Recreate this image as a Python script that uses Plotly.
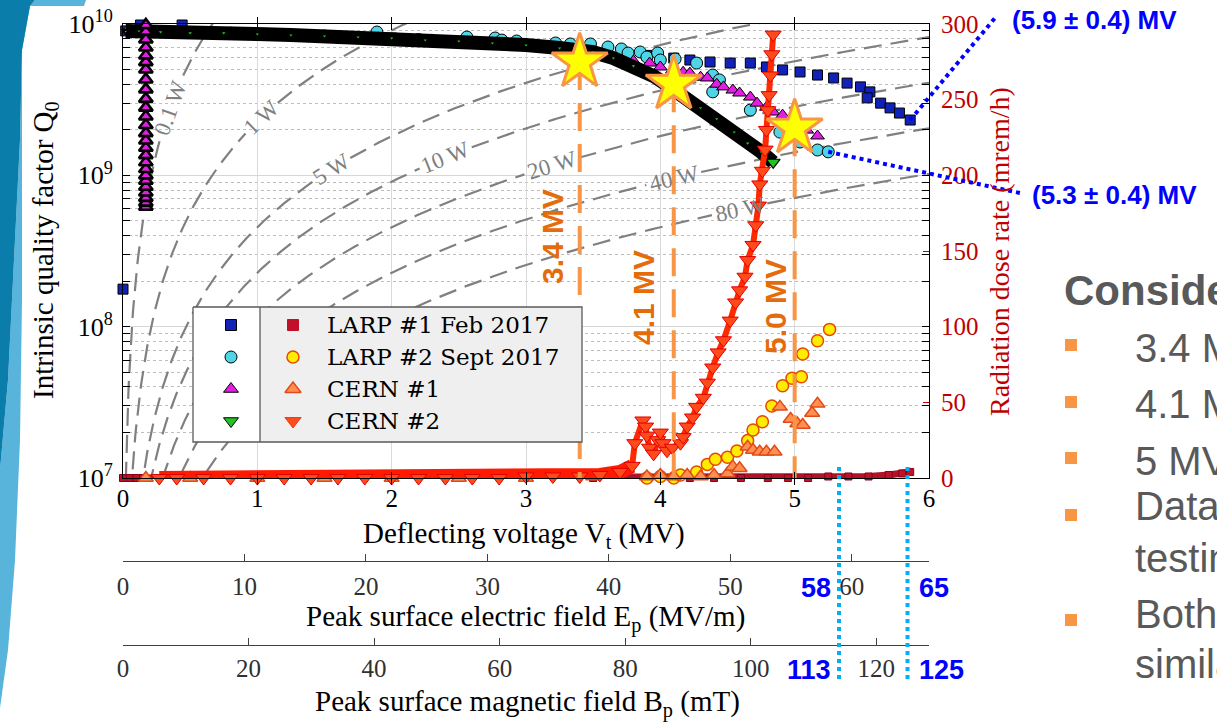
import math
import numpy as np
import plotly.graph_objects as go

W, H = 1217, 725
# plot area (pixels)
PX_L, PX_R, PX_T, PX_B = 123, 929, 24, 478
V_MAX = 6.0
LQ_MIN, LQ_MAX = 7.0, 10.0
DOSE_MAX = 300

SERIF = "Liberation Serif, Times New Roman, serif"
SANS = "Liberation Sans, Arial, sans-serif"
LEG_FONT = "DejaVu Serif, serif"

# ------------------------------------------------------------------ data
# Intrinsic quality factor Q0 vs deflecting voltage (MV)
larp1_V = [0.0, 0.02, 0.13, 0.44, 0.8, 1.2, 1.6, 2.0, 2.4, 2.8, 3.2, 3.6, 3.9, 4.1,
           4.22, 4.37, 4.52, 4.67, 4.79, 4.91, 5.04, 5.17, 5.29, 5.39, 5.49, 5.56,
           5.54, 5.64, 5.71, 5.78, 5.86]
larp1_Q = [1.77e8, 9.0e9, 9.85e9, 9.85e9, 8.7e9, 8.5e9, 8.3e9, 8.08e9, 7.75e9, 7.45e9,
           7.0e9, 6.3e9, 6.2e9, 5.95e9, 5.78e9, 5.61e9, 5.52e9, 5.52e9, 5.2e9, 4.97e9,
           4.82e9, 4.6e9, 4.4e9, 4.07e9, 3.84e9, 3.56e9, 3.25e9, 3.0e9, 2.79e9, 2.58e9,
           2.32e9]

larp2_V = [0.05, 0.4, 0.8, 1.2, 1.5, 1.89, 2.2, 2.56, 2.77, 2.82, 2.93, 3.22, 3.33,
           3.48, 3.61, 3.71, 3.76, 3.85, 3.90, 3.98, 4.0, 4.11, 4.27, 4.39, 4.44, 4.39,
           4.67, 4.89, 5.04, 5.17, 5.25]
larp2_Q = [8.99e9, 8.8e9, 8.7e9, 8.5e9, 8.33e9, 8.85e9, 7.9e9, 8.2e9, 8.08e9, 7.83e9,
           7.72e9, 7.49e9, 7.38e9, 7.38e9, 7.05e9, 6.84e9, 6.43e9, 6.53e9, 6.05e9,
           6.43e9, 5.78e9, 5.87e9, 5.52e9, 4.6e9, 4.27e9, 3.56e9, 2.7e9, 1.93e9,
           1.66e9, 1.47e9, 1.43e9]

cern1_col_V = 0.17
cern1_col_Q = [6.2e8, 6.6e8, 7.1e8, 7.7e8, 8.4e8, 9.2e8, 1.0e9, 1.1e9, 1.22e9, 1.36e9,
               1.52e9, 1.7e9, 1.9e9, 2.15e9, 2.45e9, 2.8e9, 3.2e9, 3.7e9, 4.3e9, 5.0e9,
               5.6e9, 6.2e9, 7.0e9, 7.9e9, 8.9e9, 9.85e9]
cern1_V = [0.3, 0.7, 1.1, 1.5, 1.9, 2.3, 2.7, 3.1, 3.5, 3.8, 3.92, 4.0, 4.09, 4.17,
           4.22, 4.30, 4.35, 4.42, 4.47, 4.54, 4.59, 4.67, 4.72, 4.79, 4.84, 4.91,
           4.97, 5.04, 5.09, 5.17]
cern1_Q = [8.86e9, 8.7e9, 8.5e9, 8.3e9, 8.1e9, 7.85e9, 7.5e9, 7.1e9, 6.5e9, 5.7e9,
           5.52e9, 5.2e9, 4.97e9, 4.8e9, 4.74e9, 4.45e9, 4.4e9, 4.0e9, 3.84e9, 3.66e9,
           3.5e9, 3.29e9, 3.0e9, 2.82e9, 2.62e9, 2.5e9, 2.32e9, 2.15e9, 1.99e9, 1.82e9]

cern2_V = [0.02, 0.12, 0.28, 0.5, 0.75, 1.0, 1.25, 1.5, 1.75, 2.0, 2.25, 2.5, 2.75,
           3.0, 3.25, 3.5, 3.65, 3.8, 3.95, 4.05, 4.18, 4.3, 4.42, 4.55, 4.65, 4.75,
           4.84]
cern2_Q = [8.99e9, 8.99e9, 8.86e9, 8.73e9, 8.73e9, 8.59e9, 8.46e9, 8.33e9, 8.2e9,
           8.08e9, 7.83e9, 7.72e9, 7.49e9, 7.26e9, 6.94e9, 6.53e9, 5.96e9, 5.28e9,
           4.53e9, 3.95e9, 3.3e9, 2.79e9, 2.36e9, 1.93e9, 1.63e9, 1.43e9, 1.22e9]

# Radiation dose rate (mrem/h) vs deflecting voltage (MV)
larp1_rad_V = [0.0, 0.05, 0.1, 0.15, 0.5, 1.0, 1.5, 2.0, 2.5, 3.0, 3.5, 4.0, 4.22,
               4.4, 4.6, 4.8, 4.95, 5.1, 5.25, 5.4, 5.55, 5.7, 5.8, 5.86]
larp1_rad_D = [0, 0, 0, 0, 0, 0, 0, 0, 0, 0, 0, 0, 0, 0, 0, 0, 0, 0, 1, 1, 1, 2, 3, 4]

larp2_rad_V = [3.9, 4.0, 4.1, 4.15, 4.27, 4.35, 4.41, 4.50, 4.57, 4.65, 4.69, 4.76,
               4.83, 4.91, 4.98, 5.05, 5.06, 5.17, 5.26]
larp2_rad_D = [0, 1, 0, 2, 4, 9, 12.4, 13.7, 17.8, 24.7, 31.7, 37.2, 47.6, 61.0, 65.9,
               66.9, 81.9, 90.7, 98.2]

cern1_rad_V = [0.17, 0.5, 1.0, 1.5, 2.0, 2.5, 3.0, 3.5, 3.9, 4.0, 4.1, 4.2, 4.3, 4.4,
               4.5, 4.54, 4.59, 4.65, 4.69, 4.74, 4.79, 4.85, 4.89, 4.97, 5.02, 5.06,
               5.13, 5.17]
cern1_rad_D = [0, 0, 0, 0, 0, 0, 0, 1, 1, 2, 1, 2, 1, 2, 3, 7.5, 6.4, 20.7, 18.5, 17.4,
               17.4, 17.4, 47, 39, 36, 35, 43, 49]

cern2_rad_V = [0.27, 0.4, 0.6, 0.8, 1.0, 1.2, 1.4, 1.6, 1.8, 2.0, 2.2, 2.4, 2.6, 2.8,
               3.0, 3.2, 3.4, 3.55, 3.7, 3.79, 3.81, 3.87, 3.89, 3.90, 3.92, 3.95,
               3.98, 4.0, 4.02, 4.05, 4.09, 4.15, 4.17, 4.20, 4.24, 4.27, 4.32, 4.35,
               4.39, 4.43, 4.47, 4.52, 4.56, 4.59, 4.63, 4.65, 4.69, 4.71, 4.73, 4.74,
               4.76, 4.78, 4.79, 4.80, 4.81, 4.82, 4.83, 4.84]
cern2_rad_D = [0, 0, 0, 0, 0, 0, 0, 0, 0, 0, 0, 0, 0, 0,
               1, 1, 1, 2, 4, 8, 23, 38, 34, 28, 20, 16, 25, 30, 23, 18, 20, 23, 27, 34,
               40, 47, 53, 63, 73, 83, 91, 104, 116, 124, 133, 144, 154, 167, 180, 194,
               203, 217, 230, 243, 253, 266, 280, 293]

# highlighted operating points
stars_V = [3.4, 4.1, 5.0]
stars_Q = [5.6e9, 4.0e9, 2.05e9]
stars_label = ["3.4 MV", "4.1 MV", "5.0 MV"]

# iso-power curves P = Vt^2 / (R_T/Q * Q0)
power_levels_W = [0.1, 1, 5, 10, 20, 40, 80]
power_label_V = [0.35, 1.03, 1.55, 2.40, 3.19, 4.10, 4.59]
RT_OVER_Q = 440.0  # ohm

# secondary scales
EP_PER_MV = 11.06
BP_PER_MV = 21.4
v_ticks = [0, 1, 2, 3, 4, 5, 6]
ep_ticks = [0, 10, 20, 30, 40, 50, 60]
bp_ticks = [0, 20, 40, 60, 80, 100, 120]
dose_ticks = [0, 50, 100, 150, 200, 250, 300]
q_ticks = [1e7, 1e8, 1e9, 1e10]
q_ticktext = ["10<sup>7</sup>", "10<sup>8</sup>", "10<sup>9</sup>", "10<sup>10</sup>"]

# quench limits
limit_V = [5.33, 5.84]
limit_Ep = [58, 65]
limit_Bp = [113, 125]
callout_text = ["(5.9 ± 0.4) MV", "(5.3 ± 0.4) MV"]

legend_labels = ["LARP #1 Feb 2017", "LARP #2 Sept 2017", "CERN #1", "CERN #2"]

slide_heading = "Considerations"
slide_lines = ["3.4 MV", "4.1 MV", "5 MV", "Data", "testing", "Both", "similar"]

# ------------------------------------------------------------------ helpers
def px_x(px):
    return px / W


def px_y(py):
    return 1 - py / H


def v2px(v):
    return PX_L + np.asarray(v, dtype=float) / V_MAX * (PX_R - PX_L)


def q2px(q):
    return PX_B - (np.log10(np.asarray(q, dtype=float)) - LQ_MIN) / (LQ_MAX - LQ_MIN) * (PX_B - PX_T)


def q_of(v, p):
    return (np.asarray(v, dtype=float) * 1e6) ** 2 / (RT_OVER_Q * p)


def path_px(pts):
    return "M " + " L ".join(f"{px_x(x):.5f},{px_y(y):.5f}" for x, y in pts) + " Z"


ann = []
shapes = []


def add_text(xp, yp, text, size, color, family, angle=0, xanchor="center", yanchor="middle"):
    ann.append(dict(x=px_x(xp), y=px_y(yp), xref="paper", yref="paper", text=text,
                    showarrow=False, textangle=angle, xanchor=xanchor, yanchor=yanchor,
                    font=dict(family=family, size=size, color=color)))


fig = go.Figure()
NOHOVER = dict(hoverinfo="skip", showlegend=False)

# ------------------------------------------------------------------ iso-power curves
ypx_dec = (PX_B - PX_T) / (LQ_MAX - LQ_MIN)
xpx_mv = (PX_R - PX_L) / V_MAX
vv = np.linspace(0.004, V_MAX, 1500)
for p, vl in zip(power_levels_W, power_label_V):
    qq = q_of(vv, p)
    label = f"{p:g} W"
    xl, yl = float(v2px(vl)), float(q2px(q_of(vl, p)))
    r = 0.26 * 23 * len(label) + 4
    d = np.hypot(v2px(vv) - xl, q2px(qq) - yl)
    yplot = [None if dd < r else float(qv) for dd, qv in zip(d, qq)]
    fig.add_trace(go.Scatter(x=vv.tolist(), y=yplot, mode="lines", xaxis="x", yaxis="y",
                             line=dict(color="#808080", width=2.2, dash="18px,9px"), **NOHOVER))
    slope = 2 / (vl * math.log(10)) * ypx_dec / xpx_mv
    add_text(xl, yl, label, 23, "#7F7F7F", SERIF, angle=-math.degrees(math.atan(slope)))

# ------------------------------------------------------------------ Q0 series
def mk(symbol, size, fill, edge="black", lw=1):
    return dict(symbol=symbol, size=size, color=fill, line=dict(color=edge, width=lw))


fig.add_trace(go.Scatter(x=larp1_V, y=larp1_Q, mode="markers", xaxis="x", yaxis="y",
                         marker=mk("square", 10, "#1022B8"), cliponaxis=False, **NOHOVER))
fig.add_trace(go.Scatter(x=larp2_V, y=larp2_Q, mode="markers", xaxis="x", yaxis="y",
                         marker=mk("circle", 12, "#4FD5E6"), cliponaxis=False, **NOHOVER))
fig.add_trace(go.Scatter(x=cern1_V, y=cern1_Q, mode="markers", xaxis="x", yaxis="y",
                         marker=mk("triangle-up", 12, "#E21EE2"), cliponaxis=False, **NOHOVER))
fig.add_trace(go.Scatter(x=cern2_V, y=cern2_Q, mode="lines", xaxis="x", yaxis="y",
                         line=dict(color="black", width=14), cliponaxis=False, **NOHOVER))
fig.add_trace(go.Scatter(x=cern2_V, y=cern2_Q, mode="markers", xaxis="x", yaxis="y",
                         marker=mk("triangle-down", 6, "#22C322", "black", 1.8), cliponaxis=False, **NOHOVER))
fig.add_trace(go.Scatter(x=[cern2_V[-1]], y=[cern2_Q[-1]], mode="markers", xaxis="x", yaxis="y",
                         marker=mk("triangle-down", 12, "#22C322", "black", 1.2), cliponaxis=False, **NOHOVER))
fig.add_trace(go.Scatter(x=[cern1_col_V] * len(cern1_col_Q), y=cern1_col_Q, mode="markers",
                         xaxis="x", yaxis="y", marker=mk("triangle-up", 12, "#E21EE2", lw=2.6),
                         cliponaxis=False, **NOHOVER))

# ------------------------------------------------------------------ radiation series
fig.add_trace(go.Scatter(x=larp1_rad_V, y=larp1_rad_D, mode="lines+markers", xaxis="x", yaxis="y2",
                         line=dict(color="#B0122A", width=7),
                         marker=mk("square", 7, "#C0102A", "#8A0015"), cliponaxis=False, **NOHOVER))
fig.add_trace(go.Scatter(x=larp2_rad_V, y=larp2_rad_D, mode="markers", xaxis="x", yaxis="y2",
                         marker=mk("circle", 12, "#FFEC00", "#E64A00", 1.5), cliponaxis=False, **NOHOVER))
fig.add_trace(go.Scatter(x=cern1_rad_V, y=cern1_rad_D, mode="markers", xaxis="x", yaxis="y2",
                         marker=mk("triangle-up", 13, "#FF9050", "#E24A1A", 1.5), cliponaxis=False, **NOHOVER))
band_end = next(i for i, dv in enumerate(cern2_rad_D) if dv > 10)
fig.add_trace(go.Scatter(x=cern2_rad_V[:band_end], y=cern2_rad_D[:band_end], mode="lines",
                         xaxis="x", yaxis="y2", line=dict(color="#FF1A00", width=14),
                         cliponaxis=False, **NOHOVER))
fig.add_trace(go.Scatter(x=cern2_rad_V[band_end - 1:], y=cern2_rad_D[band_end - 1:], mode="lines",
                         xaxis="x", yaxis="y2", line=dict(color="#FF2A00", width=6),
                         cliponaxis=False, **NOHOVER))
fig.add_trace(go.Scatter(x=cern2_rad_V, y=cern2_rad_D, mode="markers", xaxis="x", yaxis="y2",
                         marker=mk("triangle-down", 14, "#FF4A1C", "#E00000", 1), cliponaxis=False, **NOHOVER))

# ------------------------------------------------------------------ stars + dashed markers
for v, q in zip(stars_V, stars_Q):
    fig.add_trace(go.Scatter(x=[v, v], y=[q, 10 ** LQ_MIN], mode="lines", xaxis="x", yaxis="y3",
                             line=dict(color="#F79646", width=4, dash="28px,13px"), **NOHOVER))
fig.add_trace(go.Scatter(x=stars_V, y=stars_Q, mode="markers", xaxis="x", yaxis="y3",
                         marker=dict(symbol="star", size=42, color="#FFFF00",
                                     line=dict(color="#F79646", width=3)),
                         cliponaxis=False, **NOHOVER))
star_label_px = [(552, 237), (643, 298), (775, 307)]
for (lx, ly), t in zip(star_label_px, stars_label):
    add_text(lx, ly, f"<b>{t}</b>", 30, "#E46C0A", SANS, angle=-90)

# dummy traces to register the secondary x axes
fig.add_trace(go.Scatter(x=[0], y=[1e8], xaxis="x2", yaxis="y", mode="markers",
                         marker=dict(opacity=0), **NOHOVER))
fig.add_trace(go.Scatter(x=[0], y=[1e8], xaxis="x3", yaxis="y", mode="markers",
                         marker=dict(opacity=0), **NOHOVER))

# ------------------------------------------------------------------ legend (pixel overlay)
LB_L, LB_D, LB_R, LB_T, LB_B = 193, 260, 582, 307, 442
fig.add_trace(go.Scatter(x=[LB_D, LB_R, LB_R, LB_D, LB_D], y=[LB_T, LB_T, LB_B, LB_B, LB_T],
                         mode="lines", fill="toself", fillcolor="#EFEFEF", line=dict(width=0),
                         xaxis="x4", yaxis="y4", **NOHOVER))
fig.add_trace(go.Scatter(x=[LB_L, LB_D, LB_D, LB_L, LB_L], y=[LB_T, LB_T, LB_B, LB_B, LB_T],
                         mode="lines", fill="toself", fillcolor="white", line=dict(width=0),
                         xaxis="x4", yaxis="y4", **NOHOVER))
fig.add_trace(go.Scatter(x=[LB_L, LB_R, LB_R, LB_L, LB_L, None, LB_D, LB_D],
                         y=[LB_T, LB_T, LB_B, LB_B, LB_T, None, LB_T, LB_B],
                         mode="lines", line=dict(color="#5A5A5A", width=1.3),
                         xaxis="x4", yaxis="y4", **NOHOVER))
leg_rows = [325, 357, 389, 421]
leg_q_markers = [mk("square", 11, "#1022B8"), mk("circle", 12, "#4FD5E6"),
                 mk("triangle-up", 13, "#E21EE2"), mk("triangle-down", 13, "#22C322")]
leg_d_markers = [mk("square", 11, "#C0102A", "#C0102A"), mk("circle", 12, "#FFEC00", "#E64A00", 1.5),
                 mk("triangle-up", 14, "#FF9050", "#E24A1A", 1.5), mk("triangle-down", 14, "#FF4A1C", "#E84010", 1)]
for ry, mq, md, lab in zip(leg_rows, leg_q_markers, leg_d_markers, legend_labels):
    fig.add_trace(go.Scatter(x=[231], y=[ry], mode="markers", marker=mq, xaxis="x4", yaxis="y4", **NOHOVER))
    fig.add_trace(go.Scatter(x=[293], y=[ry], mode="markers", marker=md, xaxis="x4", yaxis="y4", **NOHOVER))
    add_text(325, ry, lab, 23, "black", LEG_FONT, xanchor="left")

# ------------------------------------------------------------------ axis titles
add_text(45, 250, "Intrinsic quality factor Q<sub>0</sub>", 29, "black", SERIF, angle=-90)
add_text(999, 252, "Radiation dose rate (mrem/h)", 28, "#C00000", SERIF, angle=-90)
add_text(524, 535, "Deflecting voltage V<sub>t</sub> (MV)", 29, "black", SERIF)
add_text(525, 618, "Peak surface electric field E<sub>p</sub> (MV/m)", 29, "black", SERIF)
add_text(527, 703, "Peak surface magnetic field B<sub>p</sub> (mT)", 29, "black", SERIF)

# ------------------------------------------------------------------ quench limit markers
for i, v in enumerate(limit_V):
    xl = float(v2px(v))
    shapes.append(dict(type="line", xref="paper", yref="paper", x0=px_x(xl), x1=px_x(xl),
                       y0=px_y(467), y1=px_y(682), line=dict(color="#00B0F0", width=4, dash="dot")))
    if i == 0:
        add_text(xl - 6, 588, f"<b>{limit_Ep[i]}</b>", 27, "#0000FF", SANS, xanchor="right")
        add_text(xl - 6, 670, f"<b>{limit_Bp[i]}</b>", 27, "#0000FF", SANS, xanchor="right")
    else:
        add_text(xl + 9, 588, f"<b>{limit_Ep[i]}</b>", 27, "#0000FF", SANS, xanchor="left")
        add_text(xl + 9, 670, f"<b>{limit_Bp[i]}</b>", 27, "#0000FF", SANS, xanchor="left")

# call-outs from end points of the LARP curves
ends = [(larp1_V[-1], larp1_Q[-1], (995, 18), (1010, 20)),
        (larp2_V[-1], larp2_Q[-1], (1020, 193), (1030, 195))]
for (v, q, tip, tpos), txt in zip(ends, callout_text):
    x0, y0 = float(v2px(v)), float(q2px(q))
    shapes.append(dict(type="line", xref="paper", yref="paper", x0=px_x(x0), y0=px_y(y0),
                       x1=px_x(tip[0]), y1=px_y(tip[1]),
                       line=dict(color="#0000FF", width=4, dash="dot")))
    add_text(tpos[0], tpos[1], f"<b>{txt}</b>", 26, "#0000FF", SANS, xanchor="left")

# ------------------------------------------------------------------ slide decoration
shapes.append(dict(type="path", xref="paper", yref="paper", layer="below",
                   path=path_px([(35, 0), (86, 0), (84, 6), (22, 6), (22, 300), (20, 440), (15, 560),
                                 (8, 650), (0, 708), (0, 470), (8, 380), (14, 260), (20, 140),
                                 (22, 50), (30, 6)]),
                   fillcolor="#58B4DA", line=dict(width=0)))
shapes.append(dict(type="path", xref="paper", yref="paper", layer="below",
                   path=path_px([(0, 0), (35, 0), (30, 6), (22, 50), (20, 140), (14, 260),
                                 (8, 380), (0, 470)]),
                   fillcolor="#0B7DAA", line=dict(width=0)))

add_text(1062, 290, f"<b>{slide_heading}</b>", 42, "#595959", SANS, xanchor="left")
slide_y = [348, 404, 461, 506, 558, 614, 664]
bullet_y = [345, 402, 458, 515, 620]
for t, y in zip(slide_lines, slide_y):
    add_text(1133, y, t, 40, "#595959", SANS, xanchor="left")
for y in bullet_y:
    shapes.append(dict(type="rect", xref="paper", yref="paper", x0=px_x(1065), x1=px_x(1077),
                       y0=px_y(y + 6), y1=px_y(y - 6), fillcolor="#F79646", line=dict(width=0)))

# ------------------------------------------------------------------ layout
minor_vals = [m * 10 ** d for d in range(7, 10) for m in range(2, 10)]
tickfont = dict(family=SERIF, size=25, color="black")
fig.update_layout(
    width=W, height=H, autosize=False,
    margin=dict(l=0, r=0, t=0, b=0, pad=0, autoexpand=False),
    paper_bgcolor="white", plot_bgcolor="rgba(0,0,0,0)",
    showlegend=False,
    xaxis=dict(domain=[px_x(PX_L), px_x(PX_R)], range=[0, V_MAX], tickvals=v_ticks,
               ticks="inside", ticklen=6, tickcolor="black", showline=True, linecolor="black",
               mirror="allticks", showgrid=True, gridcolor="#DADADA", zeroline=False,
               tickfont=tickfont, ticklabelstandoff=-2, anchor="y", fixedrange=True,
               automargin=False),
    yaxis=dict(domain=[px_y(PX_B), px_y(PX_T)], type="log", range=[LQ_MIN, LQ_MAX],
               tickvals=q_ticks, ticktext=q_ticktext, ticks="inside", ticklen=7,
               tickcolor="black", showline=True, linecolor="black", mirror="allticks",
               showgrid=True, gridcolor="#D6D6D6", zeroline=False,
               tickfont=dict(family=SERIF, size=26, color="black"), ticklabelstandoff=4,
               minor=dict(tickvals=minor_vals, ticks="inside", ticklen=4, tickcolor="black",
                          showgrid=True, gridcolor="#BEBEBE", griddash="dot", gridwidth=1),
               anchor="x", fixedrange=True, automargin=False),
    yaxis2=dict(overlaying="y", side="right", anchor="x", range=[0, DOSE_MAX],
                tickvals=dose_ticks, ticks="inside", ticklen=6, tickcolor="#C00000",
                showline=True, linecolor="#C00000", showgrid=False, zeroline=False,
                tickfont=dict(family=SERIF, size=25, color="#C00000"), ticklabelstandoff=6,
                fixedrange=True, automargin=False),
    yaxis3=dict(overlaying="y", type="log", range=[LQ_MIN, LQ_MAX], visible=False, anchor="x",
                automargin=False),
    xaxis2=dict(overlaying="x", anchor="free", position=px_y(561),
                range=[0, V_MAX * EP_PER_MV], tickvals=ep_ticks, ticks="inside", ticklen=7,
                tickcolor="#404040", showline=True, linecolor="#404040", showgrid=False,
                zeroline=False, tickfont=dict(family=SERIF, size=25, color="#303030"),
                ticklabelstandoff=3, fixedrange=True, automargin=False),
    xaxis3=dict(overlaying="x", anchor="free", position=px_y(645),
                range=[0, V_MAX * BP_PER_MV], tickvals=bp_ticks, ticks="inside", ticklen=7,
                tickcolor="#404040", showline=True, linecolor="#404040", showgrid=False,
                zeroline=False, tickfont=dict(family=SERIF, size=25, color="#303030"),
                ticklabelstandoff=1, fixedrange=True, automargin=False),
    xaxis4=dict(domain=[0, 1], range=[0, W], visible=False, anchor="y4", fixedrange=True,
                automargin=False),
    yaxis4=dict(domain=[0, 1], range=[H, 0], visible=False, anchor="x4", fixedrange=True,
                automargin=False),
    annotations=ann,
    shapes=shapes,
)

fig.write_html("out.html",
               config={"displayModeBar": False, "staticPlot": True},
               post_script="document.body.style.margin='0';document.body.style.padding='0';")
